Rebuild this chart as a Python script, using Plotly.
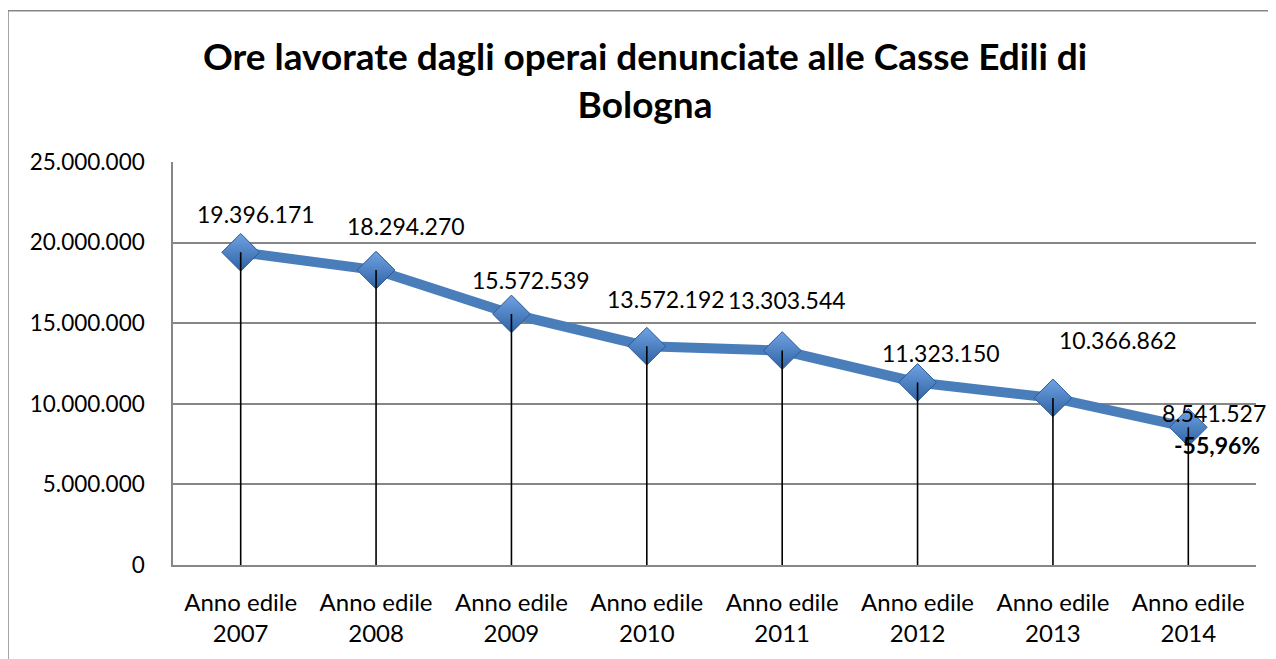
import plotly.graph_objects as go

categories = ["Anno edile<br>2007", "Anno edile<br>2008", "Anno edile<br>2009", "Anno edile<br>2010",
              "Anno edile<br>2011", "Anno edile<br>2012", "Anno edile<br>2013", "Anno edile<br>2014"]
ore = [19396171, 18294270, 15572539, 13572192, 13303544, 11323150, 10366862, 8541527]
variazione = "-55,96%"
title_text = "Ore lavorate dagli operai denunciate alle Casse Edili di<br>Bologna"

# label offsets (pixels) relative to each point
label_dx = [15, 30, 20, 19, 5, 23, 65, 26]
label_dy = [38, 44, 34, 47, 51, 29, 58, 14]

FONT = "Lato, Calibri, sans-serif"

def fmt(v):
    return f"{v:,}".replace(",", ".")

fig = go.Figure()

fig.add_trace(go.Scatter(
    x=categories, y=ore, mode="lines+markers",
    line=dict(color="#4A7EBB", width=10),
    marker=dict(symbol="diamond", size=29, color="#6FA3E3",
                gradient=dict(type="vertical", color="#2F62A3"),
                line=dict(color="#2E5A94", width=1)),
    hoverinfo="skip", showlegend=False,
))

dx, dy = [], []
for c, v in zip(categories, ore):
    dx += [c, c, None]
    dy += [v, 0, None]
fig.add_trace(go.Scatter(
    x=dx, y=dy, mode="lines", line=dict(color="black", width=1.6),
    hoverinfo="skip", showlegend=False,
))

annotations = []
for i, (c, v) in enumerate(zip(categories, ore)):
    annotations.append(dict(x=c, y=v, xref="x", yref="y", text=fmt(v), showarrow=False,
                            xshift=label_dx[i], yshift=label_dy[i],
                            font=dict(family=FONT, size=23, color="black")))
annotations.append(dict(x=categories[-1], y=ore[-1], xref="x", yref="y", text="<b>" + variazione + "</b>",
                        showarrow=False, xshift=29, yshift=-18,
                        font=dict(family=FONT, size=23, color="black")))

fig.update_layout(
    width=1268, height=651,
    margin=dict(l=165, r=20, t=154, b=92),
    paper_bgcolor="white", plot_bgcolor="white",
    separators=",.",
    title=dict(text="<b>" + title_text + "</b>", x=0.5024, xanchor="center", y=0.905, yanchor="middle",
               font=dict(family=FONT, size=37, color="black")),
    annotations=annotations,
    xaxis=dict(type="category", range=[-0.5, 7.5], showgrid=False, showline=True,
               linecolor="#868686", linewidth=1.5, ticks="", mirror=False, ticklabelstandoff=15,
               tickfont=dict(family=FONT, size=24, color="black")),
    yaxis=dict(range=[0, 25000000], dtick=5000000, tickformat=",d", showgrid=True,
               gridcolor="#868686", gridwidth=1.5, showline=True, linecolor="#868686", linewidth=1.5,
               zeroline=False, ticks="", ticklabelstandoff=22,
               tickfont=dict(family=FONT, size=22.5, color="black")),
    shapes=[dict(type="rect", xref="paper", yref="paper",
                 x0=(0 - 165) / 1083, x1=1.2, y0=-0.5, y1=1 + (154 - 2) / 405,
                 line=dict(color="#868686", width=1.5), fillcolor="rgba(0,0,0,0)", layer="below")],
)

fig.write_html("out.html")
